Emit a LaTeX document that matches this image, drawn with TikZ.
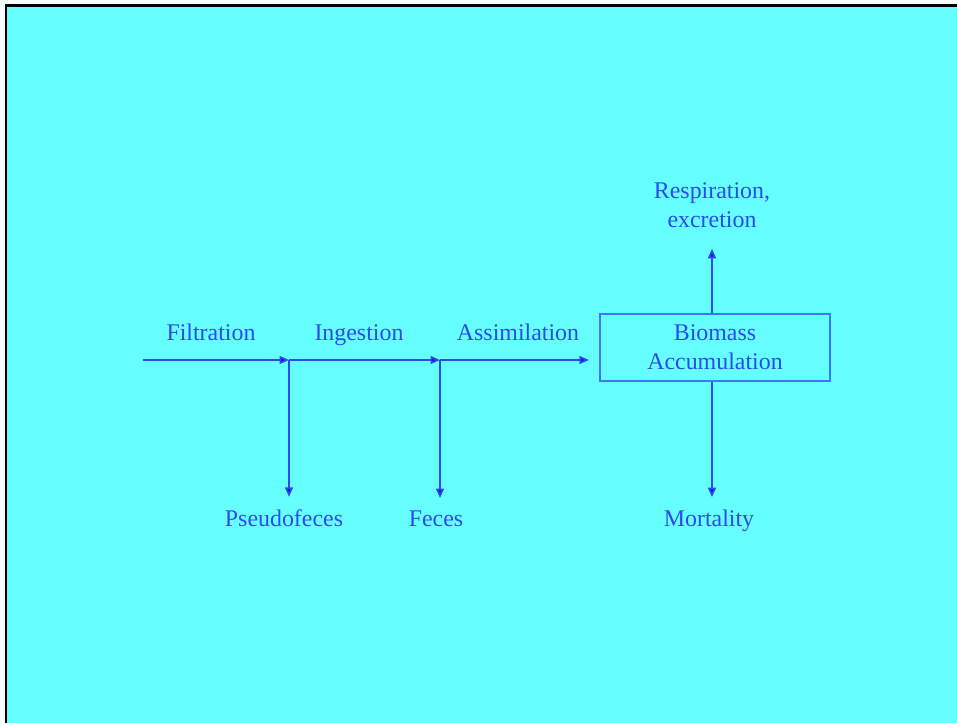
\documentclass[tikz,border=0pt]{standalone}
\usepackage{fontspec}
\setmainfont{Liberation Serif}
\usepackage{xcolor}
\usetikzlibrary{arrows.meta,positioning,calc}

\definecolor{slidecyan}{RGB}{102,255,255}
\definecolor{flowblue}{RGB}{45,75,235}
\definecolor{tipblue}{RGB}{20,30,200}
\definecolor{boxblue}{RGB}{60,120,245}

\begin{document}
\begin{tikzpicture}[
    x=0.02cm, y=-0.02cm,
    font=\fontsize{13.6}{16.4}\selectfont,
    label/.style={text=flowblue, inner sep=0pt, align=center, anchor=base},
    stock/.style={draw=boxblue, line width=1.3pt, minimum width=4.6cm, minimum height=1.34cm, text=flowblue, align=center},
    arrow/.style={draw=flowblue, line width=0.9pt, -{Triangle[length=0.19cm, width=0.16cm, fill=tipblue]}},
]
% slide background
\useasboundingbox (0,0) rectangle (957,723);
\fill[white] (0,0) rectangle (957,723);
\fill[black] (5,4) rectangle (957,723);
\fill[slidecyan] (7,7) rectangle (957,723);

\node[stock] (biomass) at (715,347.5) {Biomass\\Accumulation};

\coordinate (start) at (143,360);
\coordinate (split1) at (289,360);
\coordinate (split2) at (440,360);

\node[label] (filtration) at (211,340) {Filtration};
\node[label] (ingestion) at (359,340) {Ingestion};
\node[label] (assimilation) at (518,340) {Assimilation};
\node[label] (pseudofeces) at (284,526) {Pseudofeces};
\node[label] (feces) at (436,526) {Feces};
\node[label] (mortality) at (709,526) {Mortality};
\node[label, anchor=center] (respiration) at (712,205) {Respiration,\\excretion};

\draw[arrow] (start) -- (split1);
\draw[arrow] (split1) -- (split2);
\draw[arrow, shorten >=0.2cm] (split2) -- (split2 -| biomass.west);
\draw[arrow] (split1) -- ($(split1 |- pseudofeces.north)+(0,-12)$);
\draw[arrow] (split2) -- ($(split2 |- feces.north)+(0,-12)$);
\draw[arrow] (biomass.north -| respiration) -- ($(respiration.south)+(0,21)$);
\draw[arrow] (biomass.south -| respiration) -- ($(biomass.south -| respiration) + (0,115)$);

\end{tikzpicture}
\end{document}
